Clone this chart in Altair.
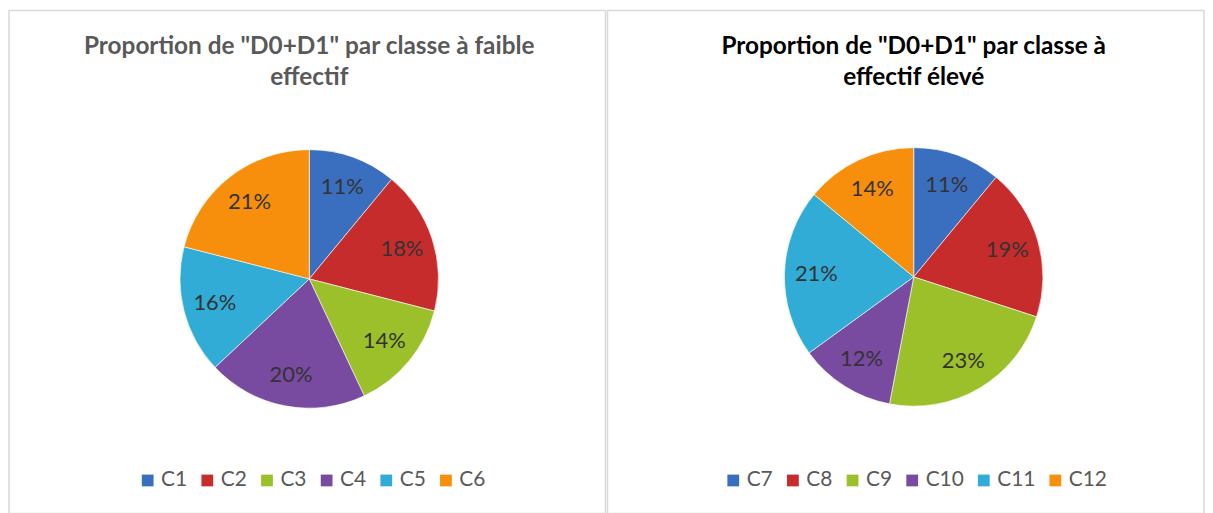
import altair as alt
import pandas as pd

cats_left = ["C1", "C2", "C3", "C4", "C5", "C6"]
vals_left = [11, 18, 14, 20, 16, 21]
cats_right = ["C7", "C8", "C9", "C10", "C11", "C12"]
vals_right = [11, 19, 23, 12, 21, 14]
colors = ["#3a6fc0", "#c62c2b", "#9cc02a", "#784aa0", "#30acd6", "#f78f0c"]
title_left = 'Proportion de "D0+D1" par classe à faible\neffectif'
title_right = 'Proportion de "D0+D1" par classe à\neffectif élevé'

FONT = "Lato"
W, H = 600, 506


def panel(cats, vals, title, title_color, cx, cy, legend_x):
    df = pd.DataFrame({"cat": cats, "val": vals, "idx": list(range(len(cats)))})
    df["label"] = df["val"].astype(str) + "%"
    base = alt.Chart(df).encode(
        theta=alt.Theta("val:Q", stack=True),
        order=alt.Order("idx:Q"),
        x=alt.value(cx),
        y=alt.value(cy),
    )
    arcs = base.mark_arc(outerRadius=130, stroke="#ffffff", strokeWidth=1, strokeOpacity=0.6).encode(
        color=alt.Color(
            "cat:N",
            scale=alt.Scale(domain=cats, range=colors),
            legend=alt.Legend(
                title=None, orient="none", legendX=legend_x, legendY=462,
                direction="horizontal", columns=6,
                symbolType="square", symbolSize=140, symbolStrokeWidth=0,
                labelFont=FONT, labelFontSize=21, labelColor="#595959",
                columnPadding=9, labelOffset=3,
            ),
        )
    )
    labels = base.mark_text(radius=98, font=FONT, fontSize=22, color="#333333").encode(text="label:N")
    t = alt.Chart(pd.DataFrame({"t": [title]})).mark_text(
        font=FONT, fontSize=24.5, fontWeight="bold", color=title_color,
        lineBreak="\n", lineHeight=31, align="center", baseline="middle",
    ).encode(text="t:N", x=alt.value(cx), y=alt.value(37))
    return alt.layer(arcs, labels, t).properties(width=W, height=H)


left = panel(cats_left, vals_left, title_left, "#595959", 302, 270, 129)
right = panel(cats_right, vals_right, title_right, "#000000", 308, 268, 116)

chart = (
    alt.hconcat(left, right, spacing=0)
    .resolve_scale(color="independent")
    .resolve_legend(color="independent")
    .configure_view(stroke="#d9d9d9", strokeWidth=1.5)
    .properties(padding=0)
)

chart.save("out.html", embed_options={"renderer": "svg", "actions": False})
